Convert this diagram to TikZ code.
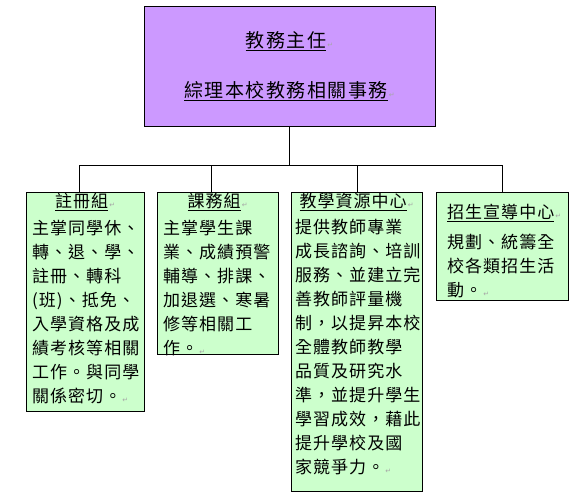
\documentclass[tikz,border=0pt]{standalone}
\usepackage{fontspec}
\setmainfont{Noto Sans CJK TC}
\newfontfamily\cjkbox[LetterSpace=6]{Noto Sans CJK TC}
\newfontfamily\cjkhead[LetterSpace=8]{Noto Sans CJK TC}
\newfontfamily\marksym{DejaVu Sans}
\usepackage{tikz}
\usetikzlibrary{positioning}
\definecolor{dirpurple}{HTML}{CC99FF}
\definecolor{unitgreen}{HTML}{CCFFCC}
\newcommand{\pmk}{{\marksym\fontsize{7}{7}\selectfont\color{gray!70}\,↵}}

\begin{document}
\begin{tikzpicture}[
  x=1pt, y=-1pt,
  head/.style={draw, line width=0.8pt, fill=dirpurple, minimum width=291pt, minimum height=120pt, inner sep=0pt, align=center, font=\cjkhead\fontsize{19}{20}\selectfont},
  unit/.style={draw, line width=0.8pt, fill=unitgreen, inner sep=0pt, anchor=north west},
  txt/.style={anchor=north west, inner sep=0pt, align=left, font=\cjkbox\fontsize{17}{24}\selectfont},
  ln/.style={line width=0.8pt}
]
  \useasboundingbox (0,0) rectangle (574,496);
  % director
  \node[head] (dir) at (289.5,66) {\underline{教務主任}\pmk\\[30pt]\underline{綜理本校教務相關事務}\pmk};
  % units
  \node[unit, minimum width=118pt, minimum height=219pt] (reg) at (26,192) {};
  \node[unit, minimum width=121pt, minimum height=162pt] (cur) at (157,192) {};
  \node[unit, minimum width=131pt, minimum height=299pt] (res) at (291,192) {};
  \node[unit, minimum width=132pt, minimum height=108pt] (adm) at (436,192) {};
  \node[txt, text width=106pt] (regtxt) at ([xshift=6pt,yshift=-1pt]reg.north west)
    {\makebox[\linewidth]{\underline{註冊組}\pmk}\\[3pt]
     主掌同學休、\\轉、退、學、\\註冊、轉科\\(班)、抵免、\\入學資格及成\\績考核等相關\\工作。與同學\\關係密切。\pmk};
  \node[txt, text width=109pt] (curtxt) at ([xshift=6pt,yshift=-1pt]cur.north west)
    {\makebox[\linewidth]{\underline{課務組}\pmk}\\[3pt]
     主掌學生課\\業、成績預警\\輔導、排課、\\加退選、寒暑\\修等相關工\\作。\pmk};
  \node[txt, text width=123pt] (restxt) at ([xshift=4pt,yshift=-1pt]res.north west)
    {\makebox[\linewidth]{\underline{教學資源中心}\pmk}\\[2pt]
     提供教師專業\\成長諮詢、培訓\\服務、並建立完\\善教師評量機\\制，以提昇本校\\全體教師教學\\品質及研究水\\準，並提升學生\\學習成效，藉此\\提升學校及國\\家競爭力。\pmk};
  \node[txt, text width=110pt] (admtxt) at ([xshift=11pt,yshift=-12pt]adm.north west)
    {\underline{招生宣導中心}\pmk\\[6pt]
     規劃、統籌全\\校各類招生活\\動。\pmk};
  % connectors
  \coordinate (bus) at (0,165);
  \coordinate (regtop) at ([xshift=-6pt]reg.north);
  \coordinate (curtop) at ([xshift=-7pt]cur.north);
  \draw[ln] (dir.south) -- (dir.south |- bus);
  \draw[ln] (regtop |- bus) -- (adm.north |- bus);
  \foreach \n in {regtop, curtop, res.north, adm.north}
    \draw[ln] (\n |- bus) -- (\n);
\end{tikzpicture}
\end{document}
